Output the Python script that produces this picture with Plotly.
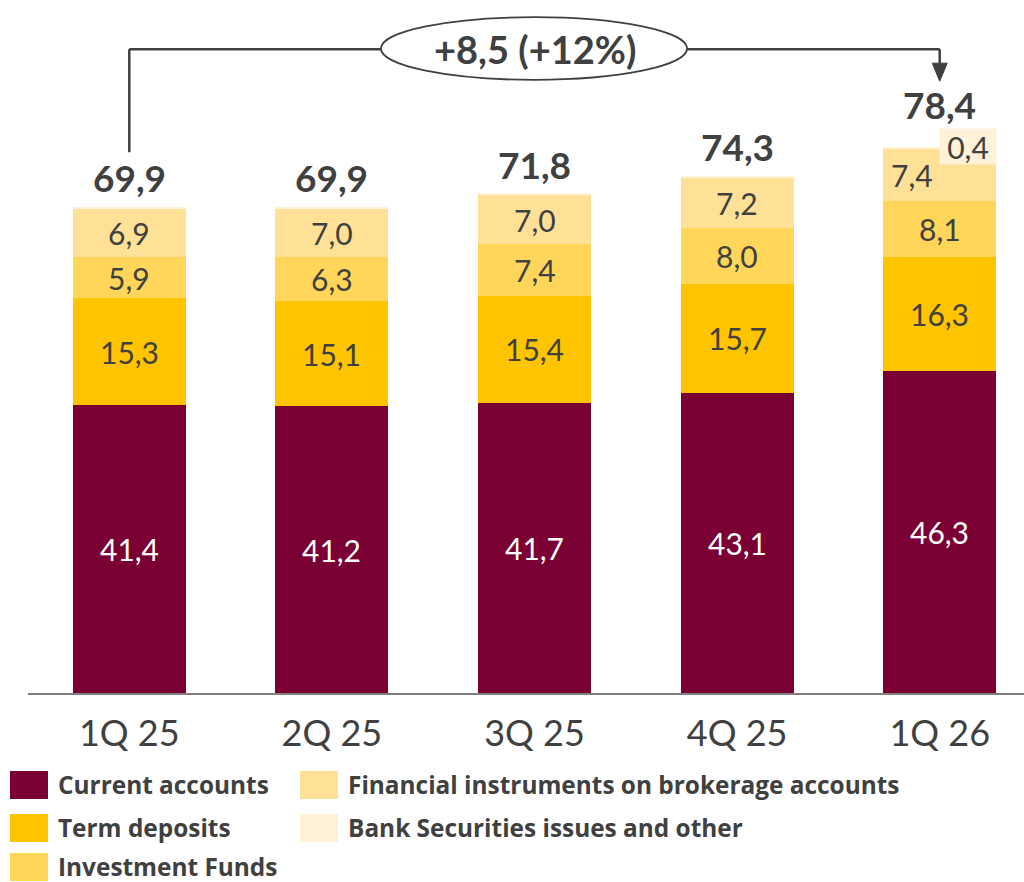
import plotly.graph_objects as go

# Quarterly customer funds, bn, by product
quarters = ["1Q 25", "2Q 25", "3Q 25", "4Q 25", "1Q 26"]
current_accounts = [41.4, 41.2, 41.7, 43.1, 46.3]
term_deposits = [15.3, 15.1, 15.4, 15.7, 16.3]
investment_funds = [5.9, 6.3, 7.4, 8.0, 8.1]
brokerage_instruments = [6.9, 7.0, 7.0, 7.2, 7.4]
bank_securities = [0.4, 0.3, 0.3, 0.3, 0.4]
totals = [69.9, 69.9, 71.8, 74.3, 78.4]
growth_label = "+8,5 (+12%)"

series = [
    ("Current accounts", current_accounts, "#7A0033"),
    ("Term deposits", term_deposits, "#FFC400"),
    ("Investment Funds", investment_funds, "#FFD55A"),
    ("Financial instruments on brokerage accounts", brokerage_instruments, "#FFE097"),
    ("Bank Securities issues and other", bank_securities, "#FFF2D8"),
]

FONT = "Lato"
LEGEND_FONT = "Open Sans"
DARK = "#404040"

# page geometry (pixels)
W, H = 1024, 882
L, B = 28, 189          # plot area starts at x=28, baseline at y=693
PLOT_W, PLOT_H = W - L, H - B
Y_MAX = 99.57
X_MIN, X_MAX = -0.5, 4.416


def fmt(v):
    return f"{v:.1f}".replace(".", ",")


def px_x(p):
    return (p - L) / PLOT_W


def px_y(p):
    return (PLOT_H - p) / PLOT_H


fig = go.Figure()
for name, vals, color in series:
    fig.add_trace(go.Bar(
        x=quarters, y=vals, name=name, marker_color=color,
        marker_line_width=0, width=0.558, showlegend=False,
        hoverinfo="x+y+name",
    ))

annotations = []
# segment value labels
for i, q in enumerate(quarters):
    base = 0.0
    for k, (name, vals, color) in enumerate(series):
        v = vals[i]
        mid = base + v / 2
        base += v
        if k == 4:
            continue
        txt_color = "white" if k == 0 else DARK
        xshift = 0
        if k == 3 and i == 4:
            xshift = -28
        annotations.append(dict(
            x=q, y=mid, text=fmt(v), showarrow=False, xshift=xshift,
            font=dict(family=FONT, size=30, color=txt_color),
        ))
    # total label above the bar
    annotations.append(dict(
        x=q, y=sum(s[1][i] for s in series), text=f"<b>{fmt(totals[i])}</b>",
        showarrow=False, yanchor="middle", yshift=(42 if i == 4 else 29),
        font=dict(family=FONT, size=37, color=DARK),
    ))

# small-segment label in a tinted box on the last bar
last_top = sum(s[1][4] for s in series)
annotations.append(dict(
    x=4, y=last_top, text=fmt(bank_securities[4]), showarrow=False,
    xshift=28.5, yshift=0, yanchor="middle",
    bgcolor="#FFF2D8", width=54, height=33,
    font=dict(family=FONT, size=30, color=DARK),
))

# growth bracket
annotations.append(dict(
    x=2, y=92.5, text=f"<b>{growth_label}</b>", showarrow=False,
    font=dict(family=FONT, size=38, color=DARK),
))

shapes = []
line = dict(color=DARK, width=2.5)
y_bar = 92.5
shapes.append(dict(type="line", xref="x", yref="y", x0=0, x1=0, y0=77.7, y1=y_bar, line=line))
shapes.append(dict(type="line", xref="x", yref="y", x0=0, x1=1.242, y0=y_bar, y1=y_bar, line=line))
shapes.append(dict(type="line", xref="x", yref="y", x0=2.753, x1=4, y0=y_bar, y1=y_bar, line=line))
shapes.append(dict(type="line", xref="x", yref="y", x0=4, x1=4, y0=y_bar, y1=90.3, line=line))
shapes.append(dict(type="path", xref="x", yref="y",
                   path="M 3.963 90.5 L 4.037 90.5 L 4 87.9 Z",
                   fillcolor=DARK, line=dict(color=DARK, width=1)))
shapes.append(dict(type="circle", xref="x", yref="y", x0=1.242, x1=2.753, y0=88.1, y1=97.1,
                   line=dict(color=DARK, width=1.8), fillcolor="rgba(0,0,0,0)"))

# legend drawn as swatches plus labels
legend_pos = [(10, 771), (10, 814), (10, 853), (300, 771), (300, 814)]
for (name, vals, color), (lx, ly) in zip(series, legend_pos):
    shapes.append(dict(type="rect", xref="paper", yref="paper",
                       x0=px_x(lx), x1=px_x(lx + 38), y0=px_y(ly + 28), y1=px_y(ly),
                       fillcolor=color, line=dict(width=0)))
    annotations.append(dict(
        xref="paper", yref="paper", x=px_x(lx + 46), y=px_y(ly + 13),
        xanchor="left", yanchor="middle", showarrow=False, text=f"<b>{name}</b>",
        font=dict(family=LEGEND_FONT, size=24.4, color=DARK),
    ))

fig.update_layout(
    width=W, height=H,
    margin=dict(l=L, r=0, t=0, b=B),
    paper_bgcolor="white", plot_bgcolor="white",
    barmode="stack", bargap=0,
    annotations=annotations, shapes=shapes,
    xaxis=dict(type="category", range=[X_MIN, X_MAX], showgrid=False,
               showline=True, linecolor="#7F7F7F", linewidth=2,
               ticks="", tickfont=dict(family=FONT, size=36, color=DARK),
               ticklabelstandoff=8),
    yaxis=dict(range=[0, Y_MAX], visible=False, showgrid=False, zeroline=False),
    showlegend=False,
    font=dict(family=FONT, color=DARK),
)

fig.write_html("out.html")
